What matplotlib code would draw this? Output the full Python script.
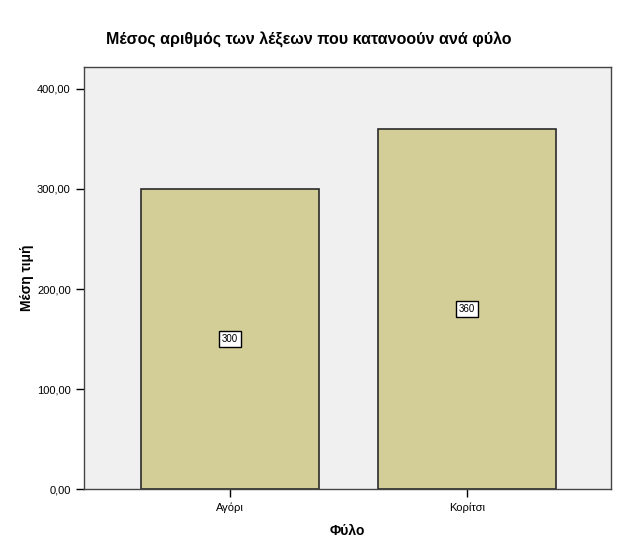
import matplotlib
matplotlib.use('Agg')
import matplotlib.pyplot as plt
import matplotlib.ticker as mtick

plt.rcParams['font.family'] = ['Liberation Sans', 'DejaVu Sans']

categories = ['Αγόρι', 'Κορίτσι']
means = [300, 360]
bar_labels = ['300', '360']
yticks = [0, 100, 200, 300, 400]

fig = plt.figure(figsize=(6.24, 5.55), dpi=100)
ax = fig.add_axes([0.1346, 0.1189, 0.8446, 0.7604])
ax.set_facecolor('#f0f0f0')

x = list(range(len(categories)))
bars = ax.bar(x, means, width=0.75, color='#d3ce97', edgecolor='#2b2b2b', linewidth=1.2, zorder=2)

for bar, lab in zip(bars, bar_labels):
    ax.text(bar.get_x() + bar.get_width() / 2, bar.get_height() / 2, lab,
            ha='center', va='center', fontsize=7,
            bbox=dict(boxstyle='square,pad=0.3', facecolor='white', edgecolor='black', linewidth=1))

ax.set_xlim(-0.616, 1.608)
ax.set_ylim(0, 422)
ax.set_xticks(x)
ax.set_xticklabels(categories, fontsize=8)
ax.set_yticks(yticks)
ax.yaxis.set_major_formatter(mtick.FuncFormatter(lambda v, p: f'{v:.2f}'.replace('.', ',')))
ax.tick_params(axis='y', labelsize=8, length=6, width=1)
ax.tick_params(axis='x', length=6, width=1)

for s in ax.spines.values():
    s.set_color('#444444')
    s.set_linewidth(1)

ax.set_xlabel('Φύλο', fontsize=10, fontweight='bold', labelpad=8)
ax.set_ylabel('Μέση τιμή', fontsize=10, fontweight='bold', labelpad=2)
fig.text(0.495, 0.928, 'Μέσος αριθμός των λέξεων που κατανοούν ανά φύλο',
         ha='center', va='center', fontsize=11.5, fontweight='bold')

plt.savefig('out.png', dpi=100)
